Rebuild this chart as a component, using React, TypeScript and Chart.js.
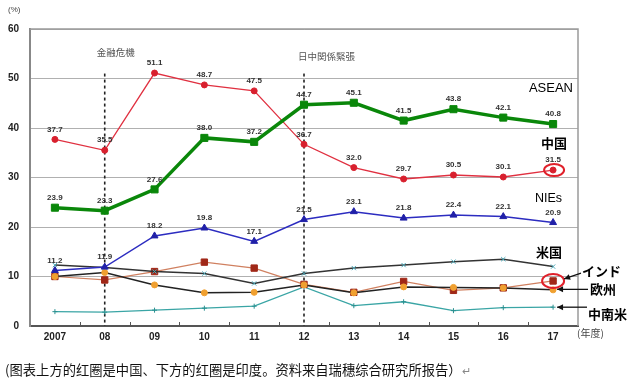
import React, { useEffect, useRef } from 'react';
import { Chart, registerables } from 'chart.js';

Chart.register(...registerables);

const years = ['2007', '08', '09', '10', '11', '12', '13', '14', '15', '16', '17'];
const asean = [23.9, 23.3, 27.6, 38.0, 37.2, 44.7, 45.1, 41.5, 43.8, 42.1, 40.8];
const china = [37.7, 35.5, 51.1, 48.7, 47.5, 36.7, 32.0, 29.7, 30.5, 30.1, 31.5];
const nies = [11.2, 11.9, 18.2, 19.8, 17.1, 21.5, 23.1, 21.8, 22.4, 22.1, 20.9];
const usa = [12.3, 11.8, 11.0, 10.6, 8.6, 10.6, 11.7, 12.3, 13.0, 13.5, 12.0];
const europe = [10.0, 10.8, 8.3, 6.7, 6.8, 8.3, 6.7, 7.9, 7.8, 7.7, 7.3];
const india = [10.0, 9.3, 11.0, 12.9, 11.7, 8.4, 6.8, 9.0, 7.2, 7.7, 9.1];
const latam = [2.9, 2.8, 3.2, 3.6, 4.0, 7.9, 4.1, 4.9, 3.1, 3.7, 3.8];
const yTicks = [0, 10, 20, 30, 40, 50, 60];
const eventIndex = [1, 5];
const eventLabels = ['金融危機', '日中関係緊張'];
const seriesNames = ['ASEAN', '中国', 'NIEs', '米国', '欧州', 'インド', '中南米'];
const caption = '(图表上方的红圈是中国、下方的红圈是印度。资料来自瑞穗综合研究所报告）';

const LATIN = '"Liberation Sans", Arial, sans-serif';
const JP = '"Noto Sans CJK JP", sans-serif';

function arrow(ctx: CanvasRenderingContext2D, x1: number, y1: number, x2: number, y2: number) {
  ctx.beginPath();
  ctx.moveTo(x1, y1);
  ctx.lineTo(x2, y2);
  ctx.stroke();
  const ang = Math.atan2(y2 - y1, x2 - x1);
  const L = 6, W = 3;
  ctx.beginPath();
  ctx.moveTo(x2, y2);
  ctx.lineTo(x2 - L * Math.cos(ang) + W * Math.sin(ang), y2 - L * Math.sin(ang) - W * Math.cos(ang));
  ctx.lineTo(x2 - L * Math.cos(ang) - W * Math.sin(ang), y2 - L * Math.sin(ang) + W * Math.cos(ang));
  ctx.closePath();
  ctx.fill();
}

const decor = {
  id: 'decor',
  beforeDatasetsDraw(chart: any) {
    const { ctx, chartArea: a, scales } = chart;
    const x = scales.x, y = scales.y;
    ctx.save();
    ctx.strokeStyle = '#9a9a9a';
    ctx.lineWidth = 1.5;
    ctx.beginPath();
    ctx.moveTo(a.left, a.top);
    ctx.lineTo(a.right, a.top);
    ctx.lineTo(a.right, a.bottom);
    ctx.stroke();
    ctx.strokeStyle = '#555';
    ctx.lineWidth = 1;
    for (let i = 0; i < years.length - 1; i++) {
      const px = Math.round((x.getPixelForValue(i) + x.getPixelForValue(i + 1)) / 2) + 0.5;
      ctx.beginPath();
      ctx.moveTo(px, a.bottom);
      ctx.lineTo(px, a.bottom - 4);
      ctx.stroke();
    }
    ctx.strokeStyle = '#222';
    ctx.lineWidth = 1.6;
    ctx.setLineDash([3, 3]);
    eventIndex.forEach((idx) => {
      const px = x.getPixelForValue(idx);
      ctx.beginPath();
      ctx.moveTo(px, y.getPixelForValue(51));
      ctx.lineTo(px, a.bottom);
      ctx.stroke();
    });
    ctx.setLineDash([]);
    ctx.fillStyle = '#555';
    ctx.font = `9.5px ${JP}`;
    ctx.textBaseline = 'middle';
    ctx.textAlign = 'center';
    ctx.fillText(eventLabels[0], x.getPixelForValue(eventIndex[0]) + 11, y.getPixelForValue(55.2));
    ctx.textAlign = 'left';
    ctx.fillText(eventLabels[1], x.getPixelForValue(eventIndex[1]) - 6, y.getPixelForValue(54.5));
    ctx.restore();
  },
  afterDatasetsDraw(chart: any) {
    const { ctx, chartArea: a, scales } = chart;
    const y = scales.y;
    ctx.save();
    ctx.fillStyle = '#333';
    ctx.font = `bold 8px ${LATIN}`;
    ctx.textAlign = 'center';
    ctx.textBaseline = 'middle';
    [0, 1, 2].forEach((di) => {
      const meta = chart.getDatasetMeta(di);
      const vals = chart.data.datasets[di].data;
      meta.data.forEach((pt: any, i: number) => {
        ctx.fillText(vals[i].toFixed(1), pt.x, pt.y - 10);
      });
    });
    ctx.fillStyle = '#000';
    ctx.textAlign = 'right';
    ctx.font = `13px ${LATIN}`;
    ctx.fillText(seriesNames[0], a.right - 5, y.getPixelForValue(47.9));
    ctx.font = `12.5px ${LATIN}`;
    ctx.fillText(seriesNames[2], a.right - 16, y.getPixelForValue(25.8));
    ctx.font = `bold 13px ${JP}`;
    ctx.fillText(seriesNames[1], a.right - 11, y.getPixelForValue(37));
    ctx.fillText(seriesNames[3], a.right - 16, y.getPixelForValue(15));
    ctx.textAlign = 'left';
    ctx.fillText(seriesNames[5], 582, y.getPixelForValue(11));
    ctx.fillText(seriesNames[4], 590, y.getPixelForValue(7.4));
    ctx.fillText(seriesNames[6], 588, y.getPixelForValue(2.5));
    ctx.strokeStyle = '#e0202a';
    ctx.lineWidth = 2;
    const last = years.length - 1;
    const pc = chart.getDatasetMeta(1).data[last];
    const pi = chart.getDatasetMeta(5).data[last];
    ctx.beginPath();
    ctx.ellipse(pc.x + 1, pc.y, 10, 6, 0, 0, Math.PI * 2);
    ctx.stroke();
    ctx.beginPath();
    ctx.ellipse(pi.x, pi.y, 11, 7, 0, 0, Math.PI * 2);
    ctx.stroke();
    ctx.strokeStyle = '#111';
    ctx.fillStyle = '#111';
    ctx.lineWidth = 1.3;
    arrow(ctx, 581, y.getPixelForValue(10.7), pi.x + 11, pi.y - 2);
    const pe = chart.getDatasetMeta(4).data[last];
    arrow(ctx, 588, y.getPixelForValue(7.4), pe.x + 4, y.getPixelForValue(7.4));
    const pl = chart.getDatasetMeta(6).data[last];
    arrow(ctx, 587, pl.y, pl.x + 4, pl.y);
    ctx.fillStyle = '#444';
    ctx.font = `8px ${LATIN}`;
    ctx.textAlign = 'left';
    ctx.fillText('(%)', 8, 10);
    ctx.font = `10px ${JP}`;
    ctx.fillText('(年度)', 577, 333);
    ctx.restore();
  },
};

export default function App() {
  const ref = useRef<HTMLCanvasElement>(null);
  useEffect(() => {
    if (!ref.current) return;
    const mk = (label: string, data: number[], color: string, width: number, style: string, radius: number, pColor: string) => ({
      label,
      data,
      borderColor: color,
      borderWidth: width,
      pointStyle: style,
      pointRadius: radius,
      pointBackgroundColor: pColor,
      pointBorderColor: pColor,
      pointBorderWidth: 1,
      tension: 0,
      fill: false,
    });
    const chart = new Chart(ref.current, {
      type: 'line',
      data: {
        labels: years,
        datasets: [
          mk(seriesNames[0], asean, '#0a870a', 3.5, 'rect', 5, '#0a870a'),
          mk(seriesNames[1], china, '#e03040', 1.3, 'circle', 3, '#d8202e'),
          mk(seriesNames[2], nies, '#2c2cc0', 1.5, 'triangle', 4, '#2020a8'),
          mk(seriesNames[3], usa, '#333333', 1.5, 'crossRot', 3, '#4aa8b8'),
          mk(seriesNames[4], europe, '#222222', 1.5, 'circle', 3, '#f0a030'),
          mk(seriesNames[5], india, '#d08060', 1.2, 'rect', 4.5, '#a02818'),
          mk(seriesNames[6], latam, '#3aa5a5', 1.3, 'cross', 2.5, '#2a9090'),
        ],
      },
      options: {
        animation: false,
        responsive: false,
        events: [],
        layout: { padding: { top: 29, right: 60, bottom: 39, left: 0 } },
        plugins: { legend: { display: false }, tooltip: { enabled: false }, title: { display: false } },
        scales: {
          x: {
            offset: true,
            grid: { display: false, drawTicks: false },
            border: { display: true, color: '#555', width: 2 },
            ticks: { color: '#222', font: { family: LATIN, size: 10, weight: 'bold' }, padding: 5 },
            afterFit: (s: any) => { s.height = 20; },
          },
          y: {
            min: 0,
            max: 60,
            afterBuildTicks: (s: any) => { s.ticks = yTicks.map((v) => ({ value: v })); },
            grid: { color: '#b0b0b0', lineWidth: 1, drawTicks: false },
            border: { display: true, color: '#888', width: 2 },
            ticks: { color: '#222', font: { family: LATIN, size: 10, weight: 'bold' }, padding: 11 },
            afterFit: (s: any) => { s.width = 30; },
          },
        },
      },
      plugins: [decor],
    } as any);
    return () => chart.destroy();
  }, []);
  return (
    <div style={{ position: 'absolute', left: 0, top: 0, width: 638, height: 385, background: '#fff' }}>
      <canvas ref={ref} width={638} height={385} style={{ position: 'absolute', left: 0, top: 0 }} />
      <div
        style={{
          position: 'absolute',
          left: 5,
          top: 361,
          fontFamily: '"Noto Sans CJK SC", sans-serif',
          fontSize: '13.3px',
          lineHeight: '18px',
          color: '#111',
          whiteSpace: 'nowrap',
        }}
      >
        {caption}
        <span style={{ color: '#888', fontSize: '11px' }}>↵</span>
      </div>
    </div>
  );
}
